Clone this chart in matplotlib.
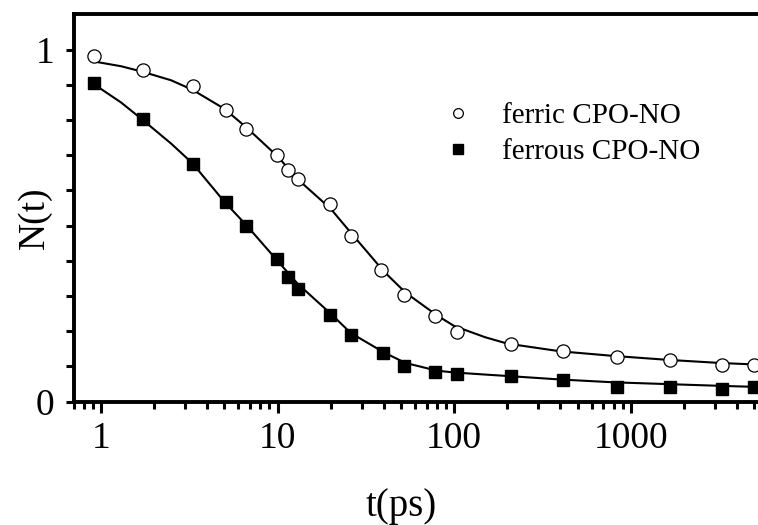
import matplotlib
matplotlib.use("Agg")
import matplotlib.pyplot as plt
from matplotlib.lines import Line2D
from matplotlib.ticker import LogLocator, FixedLocator, NullFormatter, FixedFormatter

plt.rcParams['font.family'] = ['Liberation Serif', 'DejaVu Serif']

# measured points
t_ferric = [0.91, 1.72, 3.34, 5.08, 6.66, 9.87, 11.4, 13.1, 19.8, 26.2,
            38.7, 52.2, 78.2, 103.6, 209, 415, 837, 1676, 3266, 5015]
n_ferric = [0.983, 0.941, 0.896, 0.830, 0.775, 0.700, 0.657, 0.633, 0.561, 0.472,
            0.375, 0.304, 0.242, 0.198, 0.164, 0.143, 0.126, 0.119, 0.103, 0.103]

t_ferrous = [0.91, 1.72, 3.34, 5.08, 6.66, 9.87, 11.4, 13.1, 19.8, 26.2,
             39.6, 52.2, 78.2, 103.6, 209, 415, 837, 1676, 3266, 5015]
n_ferrous = [0.904, 0.803, 0.675, 0.568, 0.500, 0.405, 0.354, 0.320, 0.247, 0.190,
             0.138, 0.100, 0.084, 0.078, 0.074, 0.061, 0.042, 0.043, 0.037, 0.042]

# fitted curves
t_fit = [0.9, 1.3, 1.7, 2.5, 3.3, 5, 6.7, 10, 13, 20, 26, 40, 53, 80, 100,
         150, 200, 400, 800, 1600, 3200, 6000]
fit_ferric = [0.967, 0.953, 0.938, 0.913, 0.886, 0.832, 0.778, 0.697, 0.632, 0.548,
              0.480, 0.370, 0.310, 0.245, 0.215, 0.183, 0.165, 0.143, 0.130, 0.119,
              0.110, 0.104]
fit_ferrous = [0.904, 0.850, 0.803, 0.733, 0.677, 0.568, 0.500, 0.400, 0.335, 0.250,
               0.195, 0.140, 0.110, 0.088, 0.083, 0.077, 0.073, 0.063, 0.055, 0.050,
               0.045, 0.041]

labels = ["ferric CPO-NO", "ferrous CPO-NO"]

fig = plt.figure(figsize=(7.58, 5.25), dpi=100)
ax = fig.add_axes([0.0971, 0.2349, 0.968, 0.7375])

ax.plot(t_fit, fit_ferric, color='black', lw=1.5)
ax.plot(t_fit, fit_ferrous, color='black', lw=1.5)
ax.plot(t_ferric, n_ferric, 'o', ms=9.5, mfc='white', mec='black', mew=0.9)
ax.plot(t_ferrous, n_ferrous, 's', ms=8, mfc='black', mec='black')

ax.set_xscale('log')
ax.set_xlim(0.7, 10000)
ax.set_ylim(0, 1.1)

ax.xaxis.set_major_locator(FixedLocator([1, 10, 100, 1000]))
ax.xaxis.set_major_formatter(FixedFormatter(['1', '10', '100', '1000']))
ax.xaxis.set_minor_locator(LogLocator(base=10, subs=range(2, 10)))
ax.xaxis.set_minor_formatter(NullFormatter())

ax.yaxis.set_major_locator(FixedLocator([0, 1]))
ax.yaxis.set_major_formatter(FixedFormatter(['0', '1']))
ax.yaxis.set_minor_locator(FixedLocator([0.1 * i for i in range(1, 10)]))

ax.tick_params(axis='both', which='major', direction='out', width=2.2, labelsize=27)
ax.tick_params(axis='x', which='major', length=8, pad=6)
ax.tick_params(axis='x', which='minor', direction='out', length=5, width=2.2)
ax.tick_params(axis='y', which='major', length=6, pad=8)
ax.tick_params(axis='y', which='minor', direction='out', length=6, width=2.2)
ax.tick_params(top=False, right=False)

for side in ['left', 'bottom', 'top']:
    ax.spines[side].set_linewidth(2.8)
ax.spines['right'].set_visible(False)

ax.set_xlabel('t(ps)', fontsize=28)
ax.xaxis.set_label_coords(0.446, -0.222)
ax.set_ylabel('N(t)', fontsize=27)
ax.yaxis.set_label_coords(-0.03, 0.476)

handles = [
    Line2D([], [], ls='none', marker='o', ms=7, mfc='white', mec='black', mew=0.9),
    Line2D([], [], ls='none', marker='s', ms=7, mfc='black', mec='black'),
]
ax.legend(handles, labels, loc='upper left', bbox_to_anchor=(429 / 758, 1 - 88 / 525),
          bbox_transform=fig.transFigure, frameon=False, fontsize=21,
          handlelength=1.0, handletextpad=1.0, labelspacing=0.32, borderpad=0)

fig.savefig('out.png', dpi=100)
